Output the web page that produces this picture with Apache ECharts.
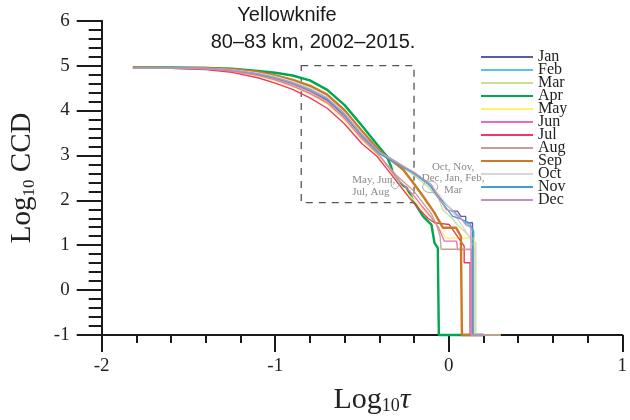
<!DOCTYPE html>
<html>
<head>
<meta charset="utf-8">
<script src="https://cdn.jsdelivr.net/npm/echarts/dist/echarts.min.js"></script>
<style>
  html, body { margin: 0; padding: 0; background: #fff; }
  #chart { width: 630px; height: 420px; }
</style>
</head>
<body>
<div id="chart"></div>
<script>
// Complementary cumulative distributions, Yellowknife 80–83 km, 2002–2015.
// x = log10(tau), y = log10(CCD); log10 of an empty count is drawn on the -1 floor.
const months = ['Jan', 'Feb', 'Mar', 'Apr', 'May', 'Jun', 'Jul', 'Aug', 'Sep', 'Oct', 'Nov', 'Dec'];

const xTicks = [-2, -1, 0, 1];
const yTicks = [-1, 0, 1, 2, 3, 4, 5, 6];

// Shared log10(tau) positions for the smooth upper part of every curve
const logTauHead = [-1.82, -1.6, -1.4, -1.25, -1.1, -1.0, -0.9, -0.8, -0.7, -0.6, -0.5];

const headJan = [4.95, 4.95, 4.93, 4.89, 4.80, 4.71, 4.59, 4.43, 4.23, 3.88, 3.42];
const headFeb = [4.95, 4.95, 4.94, 4.91, 4.83, 4.75, 4.64, 4.49, 4.29, 3.94, 3.48];
const headMar = [4.95, 4.95, 4.945, 4.92, 4.86, 4.79, 4.70, 4.57, 4.37, 4.02, 3.56];
const headApr = [4.96, 4.96, 4.95, 4.93, 4.88, 4.84, 4.78, 4.67, 4.46, 4.12, 3.66];
const headMay = [4.94, 4.94, 4.92, 4.87, 4.77, 4.66, 4.53, 4.36, 4.14, 3.78, 3.34];
const headJun = [4.95, 4.94, 4.925, 4.88, 4.78, 4.68, 4.55, 4.38, 4.17, 3.82, 3.37];
const headJul = [4.94, 4.94, 4.91, 4.85, 4.73, 4.61, 4.47, 4.28, 4.05, 3.70, 3.26];
const headAug = [4.95, 4.95, 4.93, 4.89, 4.80, 4.70, 4.58, 4.42, 4.20, 3.85, 3.40];
const headSep = [4.96, 4.95, 4.945, 4.92, 4.86, 4.78, 4.68, 4.55, 4.35, 4.00, 3.54];
const headOct = [4.95, 4.95, 4.94, 4.91, 4.84, 4.76, 4.65, 4.50, 4.30, 3.95, 3.49];
const headNov = [4.95, 4.95, 4.935, 4.90, 4.81, 4.72, 4.61, 4.45, 4.25, 3.90, 3.44];
const headDec = [4.95, 4.95, 4.935, 4.90, 4.82, 4.73, 4.62, 4.47, 4.27, 3.92, 3.46];

// Stepped lower part of every curve, [log10(tau), log10(CCD)]
const tailJan = [[-0.4, 3.05], [-0.3, 2.82], [-0.2, 2.62], [-0.13, 2.42], [-0.08, 2.2], [-0.04, 2.0], [0.023, 1.76], [0.05, 1.76], [0.07, 1.64], [0.098, 1.64], [0.098, 1.5], [0.137, 1.5], [0.137, -1], [0.2, -1]];
const tailFeb = [[-0.4, 3.06], [-0.3, 2.8], [-0.2, 2.58], [-0.12, 2.38], [-0.06, 2.05], [0.0, 1.85], [0.04, 1.7], [0.06, 1.62], [0.1, 1.5], [0.125, 1.4], [0.145, 1.3], [0.145, -1], [0.2, -1]];
const tailMar = [[-0.4, 3.1], [-0.3, 2.85], [-0.2, 2.55], [-0.12, 2.3], [-0.06, 2.05], [-0.034, 1.79], [0.02, 1.6], [0.05, 1.45], [0.08, 1.35], [0.12, 1.2], [0.156, 1.05], [0.156, -1], [0.3, -1]];
const tailApr = [[-0.45, 3.42], [-0.4, 3.18], [-0.357, 2.98], [-0.333, 2.76], [-0.319, 2.57], [-0.29, 2.39], [-0.243, 2.28], [-0.196, 1.94], [-0.148, 1.64], [-0.1, 1.46], [-0.082, 1.05], [-0.063, 0.94], [-0.057, 0.94], [-0.057, -1], [0.2, -1]];
const tailMay = [[-0.4, 2.97], [-0.35, 2.75], [-0.3, 2.45], [-0.25, 2.2], [-0.2, 2.0], [-0.15, 1.8], [-0.1, 1.6], [-0.05, 1.35], [-0.015, 1.16], [0.146, 1.16], [0.146, -1], [0.2, -1]];
const tailJun = [[-0.4, 3.0], [-0.3, 2.5], [-0.2, 2.1], [-0.15, 1.85], [-0.1, 1.62], [-0.06, 1.4], [-0.025, 1.09], [0.045, 1.09], [0.051, 0.9], [0.131, 0.9], [0.131, -1], [0.2, -1]];
const tailJul = [[-0.414, 2.98], [-0.338, 2.61], [-0.22, 2.02], [-0.167, 1.79], [-0.12, 1.6], [-0.082, 1.5], [0.003, 1.46], [0.042, 1.24], [0.089, 0.98], [0.089, 0.61], [0.123, 0.61], [0.123, -1], [0.2, -1]];
const tailAug = [[-0.4, 3.0], [-0.3, 2.55], [-0.2, 2.2], [-0.15, 1.95], [-0.1, 1.7], [-0.07, 1.45], [-0.05, 1.2], [-0.044, 0.91], [0.14, 0.91], [0.14, -1], [0.3, -1]];
const tailSep = [[-0.4, 3.1], [-0.3, 2.8], [-0.262, 2.68], [-0.205, 2.39], [-0.148, 2.09], [-0.082, 1.72], [-0.034, 1.39], [0.042, 1.39], [0.07, 1.2], [0.076, 1.2], [0.076, -1], [0.2, -1]];
const tailOct = [[-0.4, 3.05], [-0.3, 2.83], [-0.2, 2.6], [-0.1, 2.3], [-0.05, 2.1], [0.0, 1.85], [0.05, 1.6], [0.1, 1.3], [0.13, 1.1], [0.15, 0.9], [0.15, -1], [0.2, -1]];
const tailNov = [[-0.4, 3.04], [-0.3, 2.82], [-0.2, 2.6], [-0.1, 2.3], [-0.053, 2.02], [0.023, 1.64], [0.06, 1.6], [0.118, 1.5], [0.14, 1.35], [0.14, -1], [0.2, -1]];
const tailDec = [[-0.4, 3.08], [-0.3, 2.85], [-0.2, 2.62], [-0.1, 2.35], [-0.015, 1.79], [0.03, 1.75], [0.08, 1.55], [0.1, 1.45], [0.128, 1.4], [0.128, -1], [0.2, -1]];

// Region highlighted by the dashed box, [log10(tau), log10(CCD)] corners
const boxCorners = [[-0.85, 5.0], [-0.2, 1.95]];

// Group labels
const summerLabel = 'May, Jun,\nJul, Aug';
const winterLabel = 'Oct, Nov,\nDec, Jan, Feb,\nMar';

const heads = [headJan, headFeb, headMar, headApr, headMay, headJun, headJul, headAug, headSep, headOct, headNov, headDec];
const tails = [tailJan, tailFeb, tailMar, tailApr, tailMay, tailJun, tailJul, tailAug, tailSep, tailOct, tailNov, tailDec];

const lineColors = ['#5d5aa6', '#56c4ec', '#cadf94', '#00a651', '#fff36b', '#f06bb5',
                    '#ec3b5c', '#c2a294', '#c97a22', '#d6d6d6', '#3d9fd4', '#c391bf'];
const lineWidths = [1.3, 1.3, 1.3, 2.4, 1.3, 1.3, 1.4, 1.3, 2.4, 1.3, 1.3, 1.3];

const serif = 'Liberation Serif, Times New Roman, serif';
const sans = 'Liberation Sans, Arial, sans-serif';

const series = months.map((m, i) => {
  const pts = logTauHead.map((x, k) => [x, heads[i][k]]).concat(tails[i]);
  const s = {
    name: m,
    type: 'line',
    data: pts,
    symbol: 'none',
    showSymbol: false,
    clip: false,
    lineStyle: { color: lineColors[i], width: lineWidths[i] },
    itemStyle: { color: lineColors[i] },
    emphasis: { disabled: true }
  };
  if (i === 0) {
    s.markArea = {
      silent: true,
      itemStyle: { color: 'rgba(0,0,0,0)', borderColor: '#555', borderWidth: 1.3, borderType: [7, 6] },
      data: [[{ coord: boxCorners[0] }, { coord: boxCorners[1] }]]
    };
  }
  return s;
});

const chart = echarts.init(document.getElementById('chart'), null, { renderer: 'canvas' });

const axisLineStyle = { color: '#1a1a1a', width: 2 };

chart.setOption({
  animation: false,
  backgroundColor: '#fff',
  grid: { left: 101.7, right: 2, top: 20.7, bottom: 84.3, containLabel: false },
  xAxis: {
    type: 'value',
    min: xTicks[0], max: xTicks[xTicks.length - 1], interval: 1,
    axisLine: { show: true, onZero: false, lineStyle: axisLineStyle },
    axisTick: { show: true, inside: false, length: 17, lineStyle: { color: '#1a1a1a', width: 2 } },
    minorTick: { show: true, splitNumber: 5, length: 8, lineStyle: { color: '#1a1a1a', width: 2 } },
    splitLine: { show: false },
    axisLabel: { fontFamily: serif, fontSize: 19, color: '#222', margin: 22, showMinLabel: true, showMaxLabel: true },
    name: '{a|Log}{b|10}{c|τ}',
    nameLocation: 'middle',
    nameGap: 50,
    nameTextStyle: {
      padding: [0, 0, 0, 20],
      rich: {
        a: { fontFamily: serif, fontSize: 30, color: '#222', lineHeight: 30 },
        b: { fontFamily: serif, fontSize: 18, color: '#222', lineHeight: 10, verticalAlign: 'bottom' },
        c: { fontFamily: serif, fontSize: 30, fontStyle: 'italic', color: '#222', lineHeight: 30 }
      }
    }
  },
  yAxis: {
    type: 'value',
    min: yTicks[0], max: yTicks[yTicks.length - 1], interval: 1,
    axisLine: { show: true, onZero: false, lineStyle: axisLineStyle },
    axisTick: { show: true, inside: false, length: 25, lineStyle: { color: '#1a1a1a', width: 2 } },
    minorTick: { show: true, splitNumber: 5, length: 13, lineStyle: { color: '#1a1a1a', width: 2 } },
    splitLine: { show: false },
    axisLabel: { fontFamily: serif, fontSize: 19, color: '#222', margin: 32 },
    name: '{a|Log}{b|10}{a| CCD}',
    nameLocation: 'middle',
    nameRotate: 90,
    nameGap: 64,
    nameTextStyle: {
      rich: {
        a: { fontFamily: serif, fontSize: 29, color: '#222', lineHeight: 30 },
        b: { fontFamily: serif, fontSize: 17, color: '#222', lineHeight: 10, verticalAlign: 'bottom' }
      }
    }
  },
  legend: {
    data: months.map(m => ({ name: m, icon: 'rect' })),
    orient: 'vertical',
    left: 481,
    top: 49,
    padding: 0,
    itemWidth: 52,
    itemHeight: 2,
    itemGap: -3,
    selectedMode: false,
    textStyle: { fontFamily: serif, fontSize: 16, color: '#222' }
  },
  series: series
});

// Title and group annotations, placed in data coordinates
function px(pt) { return chart.convertToPixel({ gridIndex: 0 }, pt); }

const summerText = px([-0.556, 2.316]);
const winterText = px([0.025, 2.489]);
const summerRing = px([-0.309, 2.40]);
const winterRing = px([-0.107, 2.30]);

chart.setOption({
  graphic: [
    { type: 'text', style: { text: 'Yellowknife', x: 287, y: 15, font: '20px ' + sans, fill: '#1a1a1a', textAlign: 'center', textVerticalAlign: 'middle' } },
    { type: 'text', style: { text: '80–83 km, 2002–2015.', x: 313, y: 42, font: '20px ' + sans, fill: '#1a1a1a', textAlign: 'center', textVerticalAlign: 'middle' } },
    { type: 'text', style: { text: summerLabel, x: summerText[0], y: summerText[1], font: '11px ' + serif, fill: '#8a8a8a', textAlign: 'left', textVerticalAlign: 'middle', lineHeight: 11.5 } },
    { type: 'text', style: { text: winterLabel, x: winterText[0], y: winterText[1], font: '11px ' + serif, fill: '#8a8a8a', textAlign: 'center', textVerticalAlign: 'middle', lineHeight: 11.7 } },
    { type: 'ellipse', shape: { cx: summerRing[0], cy: summerRing[1], rx: 4.2, ry: 6.5 }, style: { fill: 'none', stroke: '#a8a8a8', lineWidth: 1 }, z: 100 },
    { type: 'ellipse', shape: { cx: winterRing[0], cy: winterRing[1], rx: 7.5, ry: 5.8 }, style: { fill: 'none', stroke: '#a8a8a8', lineWidth: 1 }, z: 100 }
  ]
});
</script>
</body>
</html>
